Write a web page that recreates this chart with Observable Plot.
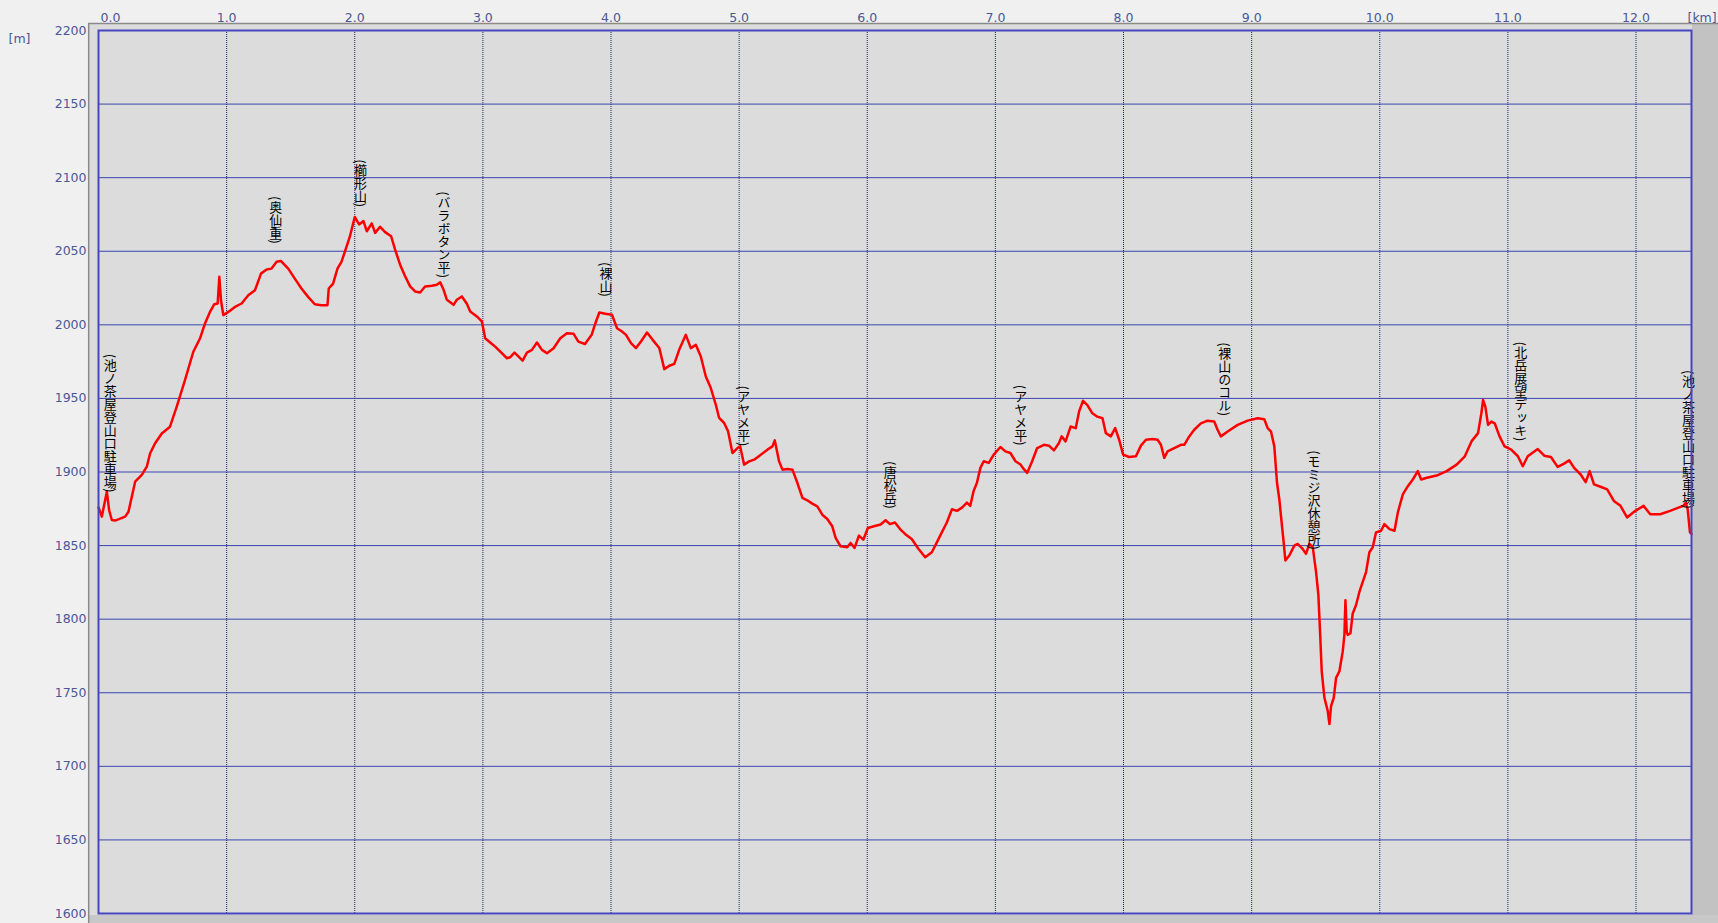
<!DOCTYPE html>
<html><head><meta charset="utf-8">
<script src="https://cdn.jsdelivr.net/npm/d3@7"></script>
<script src="https://cdn.jsdelivr.net/npm/@observablehq/plot@0.6"></script>
<style>
html,body{margin:0;padding:0;background:#f0f0f0;}
#chart{width:1718px;height:923px;overflow:hidden;}
text.vt{writing-mode:vertical-rl;text-orientation:mixed;}
</style></head><body><div id="chart"></div>
<script>
// distance along the route [km]
const dist = [
0,0.026,0.047,0.065,0.083,0.104,0.13,0.208,0.234,0.286,0.338,0.377,0.403,0.442,0.494,0.558,0.61,0.675,0.74,0.792,
0.831,0.87,0.904,0.93,0.943,0.956,0.974,1.013,1.065,1.117,1.169,1.221,1.268,1.312,1.351,1.39,1.423,1.481,1.532,1.584,
1.636,1.688,1.74,1.787,1.797,1.831,1.865,1.896,1.927,1.961,2.0,2.034,2.068,2.094,2.133,2.159,2.198,2.237,2.284,2.315,
2.354,2.393,2.432,2.471,2.51,2.549,2.602,2.641,2.667,2.693,2.719,2.771,2.797,2.836,2.875,2.901,2.953,2.992,3.018,3.057,
3.096,3.148,3.188,3.214,3.247,3.279,3.31,3.344,3.383,3.422,3.461,3.5,3.552,3.604,3.656,3.708,3.745,3.797,3.849,3.878,
3.909,3.956,4.008,4.047,4.086,4.117,4.156,4.195,4.234,4.281,4.325,4.377,4.416,4.455,4.494,4.532,4.584,4.623,4.662,4.701,
4.74,4.779,4.818,4.844,4.883,4.914,4.948,4.987,5.008,5.039,5.078,5.117,5.169,5.221,5.26,5.278,5.312,5.338,5.377,5.416,
5.455,5.494,5.532,5.571,5.61,5.649,5.688,5.727,5.753,5.792,5.844,5.87,5.901,5.935,5.969,6.005,6.052,6.104,6.143,6.177,
6.216,6.256,6.295,6.347,6.399,6.452,6.504,6.543,6.582,6.621,6.661,6.7,6.739,6.778,6.804,6.83,6.856,6.883,6.909,6.948,
6.987,7.039,7.078,7.117,7.157,7.196,7.214,7.248,7.287,7.326,7.379,7.418,7.457,7.496,7.517,7.548,7.587,7.627,7.653,7.684,
7.718,7.757,7.796,7.836,7.862,7.901,7.935,7.966,7.997,8.044,8.097,8.136,8.175,8.227,8.266,8.292,8.318,8.344,8.396,8.448,
8.474,8.513,8.552,8.604,8.656,8.708,8.734,8.76,8.813,8.891,8.969,9.047,9.099,9.125,9.151,9.177,9.198,9.216,9.234,9.25,
9.263,9.294,9.333,9.359,9.398,9.424,9.451,9.477,9.503,9.521,9.536,9.547,9.568,9.594,9.607,9.62,9.641,9.659,9.685,9.711,
9.724,9.732,9.742,9.75,9.771,9.789,9.815,9.841,9.867,9.893,9.919,9.945,9.971,10.01,10.036,10.076,10.115,10.141,10.18,10.219,
10.258,10.297,10.323,10.367,10.444,10.522,10.6,10.664,10.716,10.767,10.793,10.806,10.824,10.845,10.871,10.897,10.935,10.974,11.026,11.078,
11.116,11.155,11.233,11.284,11.336,11.388,11.439,11.478,11.517,11.568,11.607,11.638,11.672,11.723,11.775,11.827,11.879,11.93,11.995,12.059,
12.111,12.189,12.266,12.331,12.37,12.388,12.403,12.421,12.433
];
// elevation [m]
const elev = [
1876,1869.7,1878.7,1886.6,1874,1867.4,1867,1869.7,1873,1893.4,1898,1903.6,1912.7,1919.5,1926.2,1930.8,1944.3,1962.4,1981.7,1990.7,
2000.9,2008.8,2014,2014.5,2032.6,2016.7,2006.6,2008.8,2012.2,2014.5,2020.1,2023.5,2034.8,2037.6,2038.2,2042.8,2043.4,2038.2,2031.4,2024.7,
2019,2014,2013.3,2013.3,2024.7,2028,2038.2,2042.8,2050.7,2059.7,2073.3,2068.2,2070.5,2063.6,2068.9,2062.5,2066.6,2063,2060.2,2051.1,
2040.9,2033,2026.1,2022.7,2022,2026.1,2026.6,2027.3,2028.9,2023.9,2017,2013.6,2017,2019.3,2014.3,2009.1,2005.7,2002.3,1990.9,1988,
1985.2,1980.7,1977.3,1978,1981.1,1978.4,1975.7,1981.1,1983,1988,1983,1980.7,1984.1,1990.9,1994.3,1993.9,1988.6,1987,1993.2,2001.1,
2008.4,2007.5,2006.8,1997.7,1995.5,1993.2,1987.6,1984.2,1988.7,1994.8,1989.8,1984.2,1969.9,1972.2,1973.5,1983,1993.2,1984.2,1986.4,1978.5,
1964.9,1957,1945.7,1936.7,1933.3,1927.6,1912.9,1916.3,1917.4,1905,1907.2,1908.4,1911.8,1915.2,1917.4,1921.5,1907.2,1901.6,1902,1901.6,
1892.5,1882.4,1880.8,1878.5,1876.7,1871,1868.1,1863.1,1855.2,1849.5,1848.9,1851.8,1848.4,1856.8,1854,1862,1863.1,1864.3,1867.2,1864.6,
1865.7,1861.2,1857.9,1854.5,1847.8,1842.1,1845.5,1852.2,1859,1865.7,1874.7,1873.6,1875.8,1879.2,1877,1887.1,1892.7,1902.8,1907.3,1906.2,
1911.8,1917,1914,1912.9,1907.3,1905.1,1902.8,1899.4,1907.3,1916.3,1918.5,1917.9,1914.7,1919.7,1924.2,1920.8,1930.9,1929.8,1941,1948.4,
1945.5,1939.9,1937.6,1936.5,1926.4,1924.2,1929.8,1921.9,1911.8,1910.2,1910.7,1917.9,1921.9,1922.4,1921.9,1918.5,1909.6,1914,1916.3,1918.5,
1918.5,1924.2,1928.7,1933.1,1934.9,1934.3,1928.7,1924.2,1927.5,1932,1934.9,1936.5,1935.8,1929.8,1927.5,1917.4,1892.7,1881.5,1865.7,1852.2,
1839.9,1843.3,1850,1851.1,1847.8,1844.4,1851.1,1848.9,1832,1816.3,1787.1,1764.6,1746.6,1737.6,1728.7,1741,1746.6,1760.1,1764.6,1778.1,
1789.3,1812.9,1791.6,1789.3,1790.4,1803.9,1809.6,1818.5,1825.3,1832,1845.5,1848.9,1859,1860.1,1864.6,1861.2,1860.1,1872.5,1884.8,1890.4,
1894.9,1900.6,1894.9,1896.1,1897.6,1900.6,1905,1910.7,1920.8,1926.4,1939.9,1948.9,1944.4,1932,1934.3,1933.1,1924.2,1917.4,1915.2,1910.7,
1903.9,1910.7,1915.6,1911.1,1910.2,1903.5,1905.7,1908,1902.8,1898.3,1893.1,1900.6,1891.6,1890,1888.2,1880.3,1877,1869.1,1873.6,1877,
1871.3,1871.3,1873.6,1875.8,1877,1879.2,1874.7,1859,1858
];
// waypoints
const wpName = ["(池ノ茶屋登山口駐車場)","(奥仙重)","(櫛形山)","(バラボタン平)","(裸山)","(アヤメ平)","(唐松岳)","(アヤメ平)","(裸山のコル)","(モミジ沢休憩所)","(北岳展望デッキ)","(池ノ茶屋登山口駐車場)"];
const wpDist = [0.091,1.384,2.045,2.696,3.96,5.037,6.18,7.197,8.79,9.487,11.10,12.41];
const wpElev = [1886,2055,2080,2031.8,2019,1917.4,1875,1917.9,1938,1847,1920.8,1875];
// tick labels
const xTicks = [0,1,2,3,4,5,6,7,8,9,10,11,12];
const yTicks = [1600,1650,1700,1750,1800,1850,1900,1950,2000,2050,2100,2150,2200];

const profile = dist.map((d, i) => ({d, e: elev[i]}));
const wps = wpName.map((n, i) => ({n, d: wpDist[i], e: wpElev[i]}));
const tickColor = "#4a5795";

const plot = Plot.plot({
  width: 1718, height: 923,
  marginLeft: 98, marginRight: 27, marginTop: 30, marginBottom: 10,
  x: {domain: [0, 12.433], axis: null},
  y: {domain: [1600, 2200], axis: null},
  style: {background: "transparent", fontFamily: "'DejaVu Sans', Verdana, sans-serif", overflow: "visible"},
  marks: [
    Plot.frame({fill: "#dcdcdc"}),
    Plot.ruleY(yTicks, {stroke: "#3a46b0", strokeWidth: 1}),
    Plot.ruleX(xTicks, {stroke: "#22226a", strokeDasharray: "1,1", strokeWidth: 1}),
    Plot.line(profile, {x: "d", y: "e", stroke: "#ff0000", strokeWidth: 2.5}),
    Plot.text(wps, {x: "d", y: "e", text: "n", textAnchor: "end", lineAnchor: "bottom",
      fontSize: 13, fill: "#000", fontFamily: "'Noto Sans CJK JP', sans-serif"}),
    Plot.frame({stroke: "#4646c0", strokeWidth: 2}),
    Plot.text(yTicks, {y: d => d, text: d => String(d), frameAnchor: "left", textAnchor: "end", dx: -12, fill: tickColor, fontSize: 12.5}),
    Plot.text(xTicks.filter(t => t > 0), {x: d => d, text: d => d.toFixed(1), frameAnchor: "top", dy: -17, fill: tickColor, fontSize: 12.5}),
    Plot.text(xTicks.filter(t => t === 0), {x: d => d, text: d => d.toFixed(1), frameAnchor: "top", textAnchor: "start", dx: 2, dy: -17, fill: tickColor, fontSize: 12.5}),
    Plot.text(["[km]"], {text: d => d, frameAnchor: "top-right", textAnchor: "start", dx: -4, dy: -17, fill: tickColor, fontSize: 12.5}),
    Plot.text(["[m]"], {text: d => d, frameAnchor: "top-left", textAnchor: "start", dx: -90, dy: 4, fill: tickColor, fontSize: 12.5})
  ]
});

const svg = d3.select(plot);
const names = new Set(wpName);
svg.selectAll("text").each(function () {
  if (names.has(this.textContent)) {
    this.classList.add("vt");
    this.setAttribute("writing-mode", "vertical-rl");
    this.style.writingMode = "vertical-rl";
  }
});
// panel background
const bg = svg.insert("g", ":first-child");
bg.append("rect").attr("x", 88).attr("y", 23).attr("width", 1630).attr("height", 900).attr("fill", "#dcdcdc");
bg.append("rect").attr("x", 1692).attr("y", 24).attr("width", 26).attr("height", 899).attr("fill", "#c2c2c2");
bg.append("rect").attr("x", 89).attr("y", 915).attr("width", 1629).attr("height", 8).attr("fill", "#c8c8c8");
bg.append("line").attr("x1", 88).attr("x2", 1718).attr("y1", 23.5).attr("y2", 23.5).attr("stroke", "#8a8a8a").attr("stroke-width", 1.5);
bg.append("line").attr("x1", 88.7).attr("x2", 88.7).attr("y1", 23).attr("y2", 923).attr("stroke", "#8a8a8a").attr("stroke-width", 1.5);
document.getElementById("chart").appendChild(plot);
</script></body></html>
